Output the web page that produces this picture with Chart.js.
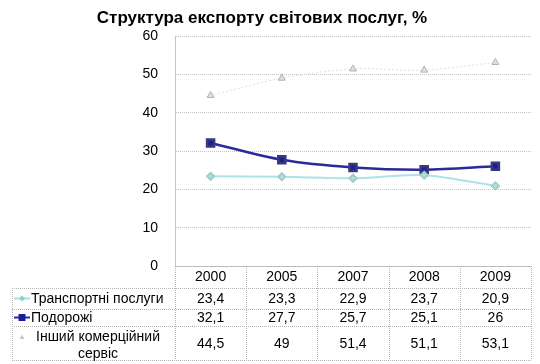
<!DOCTYPE HTML>
<html>
<head>
  <script src="https://cdn.jsdelivr.net/npm/chart.js"></script>
  <style>
    body { margin: 0; background: #fff; }
    #wrap { width: 540px; height: 364px; }
  </style>
</head>
<body>
  <div id="wrap"><canvas id="exportChart" width="540" height="364"></canvas></div>

  <script>
    // chart data
    var chartTitle = 'Структура експорту світових послуг, %';
    var years = ['2000', '2005', '2007', '2008', '2009'];
    var seriesNames = ['Транспортні послуги', 'Подорожі', 'Інший комерційний сервіс'];
    var transport = [23.4, 23.3, 22.9, 23.7, 20.9];
    var travel = [32.1, 27.7, 25.7, 25.1, 26];
    var other = [44.5, 49, 51.4, 51.1, 53.1];
    var yTicks = [0, 10, 20, 30, 40, 50, 60];

    var FONT = '"Liberation Sans", Arial, sans-serif';
    var gridColor = '#c4c4c4';

    // number in table, comma as decimal mark
    function fmt(v) {
      return String(v).replace('.', ',');
    }

    // title drawn on top
    var titlePlugin = {
      id: 'titleText',
      afterDraw: function(chart) {
        var ctx = chart.ctx;
        ctx.save();
        ctx.font = 'bold 17px ' + FONT;
        ctx.fillStyle = '#000';
        ctx.textAlign = 'center';
        ctx.textBaseline = 'middle';
        ctx.fillText(chartTitle, 262, 18);
        ctx.restore();
      }
    };

    function drawMarker(ctx, kind, x, y) {
      ctx.save();
      if (kind === 0) {
        ctx.strokeStyle = '#a6e0e6';
        ctx.lineWidth = 2;
        ctx.beginPath(); ctx.moveTo(x - 8, y); ctx.lineTo(x + 8, y); ctx.stroke();
        ctx.fillStyle = '#8fd0d4';
        ctx.beginPath();
        ctx.moveTo(x, y - 3); ctx.lineTo(x + 3, y); ctx.lineTo(x, y + 3); ctx.lineTo(x - 3, y);
        ctx.closePath(); ctx.fill();
      } else if (kind === 1) {
        ctx.strokeStyle = '#2a2a9a';
        ctx.lineWidth = 2;
        ctx.beginPath(); ctx.moveTo(x - 8, y); ctx.lineTo(x + 8, y); ctx.stroke();
        ctx.fillStyle = '#1c1ca0';
        ctx.fillRect(x - 3.5, y - 3.5, 7, 7);
      } else {
        ctx.fillStyle = '#c8c8c8';
        ctx.beginPath();
        ctx.moveTo(x, y - 2.5); ctx.lineTo(x + 2.5, y + 2); ctx.lineTo(x - 2.5, y + 2);
        ctx.closePath(); ctx.fill();
      }
      ctx.restore();
    }

    // data table under the plot, columns follow the x scale
    var tablePlugin = {
      id: 'dataTable',
      afterDraw: function(chart) {
        var ctx = chart.ctx;
        var xs = chart.scales.x;
        var area = chart.chartArea;
        var rows = [area.bottom, 288, 309, 326, 360];
        var leftEdge = 12;
        var colW = xs.getPixelForValue(1) - xs.getPixelForValue(0);
        var values = [transport, travel, other];

        ctx.save();
        ctx.strokeStyle = '#b4b4b4';
        ctx.lineWidth = 1;
        ctx.setLineDash([1, 1]);
        ctx.beginPath();
        // horizontal lines
        ctx.moveTo(area.left, rows[0] + 0.5); ctx.lineTo(area.right, rows[0] + 0.5);
        for (var r = 1; r < rows.length; r++) {
          ctx.moveTo(leftEdge, rows[r] + 0.5); ctx.lineTo(area.right, rows[r] + 0.5);
        }
        // vertical lines
        ctx.moveTo(leftEdge + 0.5, rows[1]); ctx.lineTo(leftEdge + 0.5, rows[4]);
        for (var i = 0; i <= years.length; i++) {
          var vx = Math.round(xs.getPixelForValue(0) - colW / 2 + i * colW) + 0.5;
          ctx.moveTo(vx, rows[0]); ctx.lineTo(vx, rows[4]);
        }
        ctx.stroke();
        ctx.setLineDash([]);

        ctx.fillStyle = '#000';
        ctx.font = '14px ' + FONT;
        ctx.textBaseline = 'middle';
        for (var s = 0; s < 3; s++) {
          var cy = (rows[s + 1] + rows[s + 2]) / 2;
          ctx.textAlign = 'center';
          for (var j = 0; j < years.length; j++) {
            ctx.fillText(fmt(values[s][j]), xs.getPixelForValue(j), cy + 1);
          }
          if (s < 2) {
            drawMarker(ctx, s, 22, cy);
            ctx.textAlign = 'left';
            ctx.fillText(seriesNames[s], 31, cy + 1);
          } else {
            drawMarker(ctx, s, 22, rows[3] + 11);
            ctx.textAlign = 'center';
            var words = seriesNames[s].split(' ');
            ctx.fillText(words.slice(0, 2).join(' '), 98, rows[3] + 11);
            ctx.fillText(words.slice(2).join(' '), 98, rows[3] + 28);
          }
        }
        ctx.restore();
      }
    };

    var ctx = document.getElementById('exportChart').getContext('2d');
    var chart = new Chart(ctx, {
      type: 'line',
      data: {
        labels: years,
        datasets: [
          {
            label: seriesNames[0],
            data: transport,
            borderColor: '#ace2e8',
            backgroundColor: '#8fd0d4',
            borderWidth: 2,
            pointStyle: 'rectRot',
            pointRadius: 3.5,
            pointBorderColor: '#a0cccc',
            pointBackgroundColor: '#b8e0e0',
            tension: 0.3
          },
          {
            label: seriesNames[1],
            data: travel,
            borderColor: '#2a2a9a',
            backgroundColor: '#1c1ca0',
            borderWidth: 2.5,
            pointStyle: 'rect',
            pointRadius: 5,
            pointBorderColor: '#3a3a7a',
            pointBackgroundColor: '#1c1ca0',
            tension: 0.3
          },
          {
            label: seriesNames[2],
            data: other,
            borderColor: '#e2e0d0',
            backgroundColor: '#d4d4d4',
            borderWidth: 1,
            borderDash: [2, 2],
            pointStyle: 'triangle',
            pointRadius: 4,
            pointBorderColor: '#b0b0b0',
            pointBackgroundColor: '#e0e0e0',
            pointBorderWidth: 1,
            tension: 0.3
          }
        ]
      },
      options: {
        responsive: false,
        animation: false,
        layout: { padding: { top: 36, right: 9, bottom: 76, left: 0 } },
        plugins: {
          legend: { display: false },
          title: { display: false },
          tooltip: { enabled: false }
        },
        scales: {
          x: {
            offset: true,
            grid: { display: false, drawTicks: false },
            border: { display: false },
            ticks: { color: '#000', font: { family: FONT, size: 14 }, padding: 3 },
            afterFit: function(scale) { scale.height = 22; }
          },
          y: {
            min: 0,
            max: 60,
            afterBuildTicks: function(scale) {
              scale.ticks = yTicks.map(function(v) { return { value: v }; });
            },
            grid: { color: gridColor, drawTicks: false },
            border: { color: gridColor, dash: [1, 1] },
            ticks: { color: '#000', font: { family: FONT, size: 14 }, padding: 17 },
            afterFit: function(scale) { scale.width = 175; }
          }
        }
      },
      plugins: [titlePlugin, tablePlugin]
    });
  </script>
</body>
</html>
